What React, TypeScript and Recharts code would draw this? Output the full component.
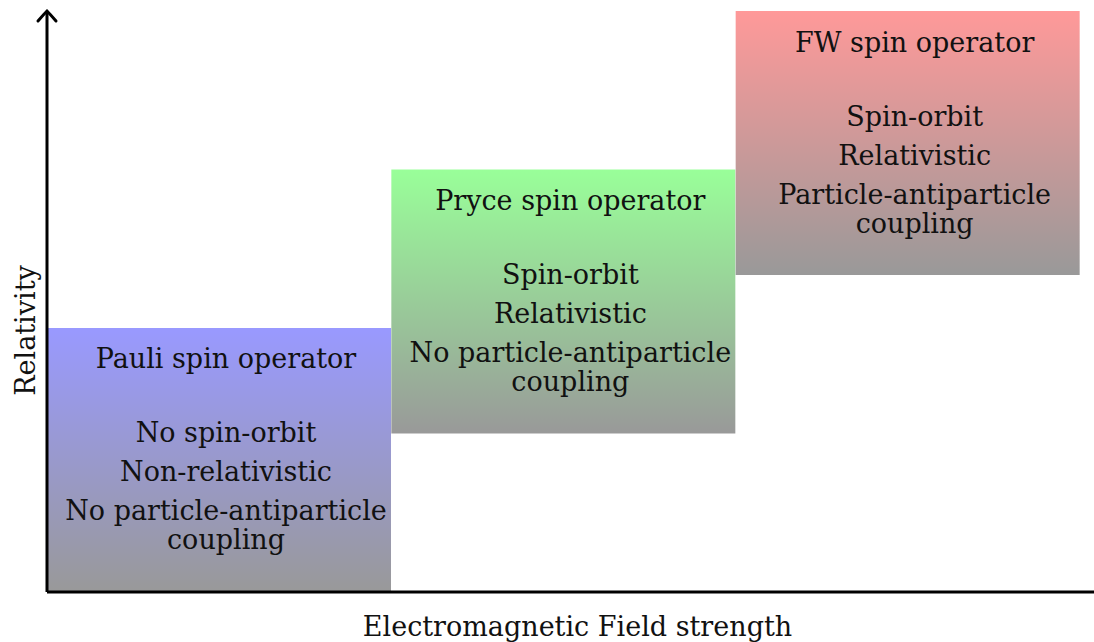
import React from "react";
import { BarChart, Bar, XAxis, YAxis, Cell, Label } from "recharts";

const operators = ["Pauli spin operator", "Pryce spin operator", "FW spin operator"];
const lowValues = [0, 0.6, 1.2];
const highValues = [1, 1.6, 2.2];
const topColors = ["#9999ff", "#99ff99", "#ff9999"];
const bottomColor = "#999999";
const properties = [
  ["No spin-orbit", "Non-relativistic", "No particle-antiparticle", "coupling"],
  ["Spin-orbit", "Relativistic", "No particle-antiparticle", "coupling"],
  ["Spin-orbit", "Relativistic", "Particle-antiparticle", "coupling"],
];

const data = operators.map((name, i) => ({
  name,
  range: [lowValues[i], highValues[i]],
  lines: properties[i],
}));

const FONT = "'DejaVu Serif', 'Liberation Serif', serif";
const FS = 27;
const lineOffsets = [105, 144, 183, 212];

const BoxText = (props: any) => {
  const { x, y, width, index } = props;
  // text sits a little right of the box centre in the original
  const cx = x + width / 2 + 7;
  const item = data[index];
  return (
    <g fontFamily={FONT} fontSize={FS} fill="#111" textAnchor="middle">
      <text x={cx} y={y + 31} dominantBaseline="central">
        {item.name}
      </text>
      {item.lines.map((line, j) => (
        <text key={j} x={cx} y={y + lineOffsets[j]} dominantBaseline="central">
          {line}
        </text>
      ))}
    </g>
  );
};

export default function App() {
  return (
    <div style={{ position: "absolute", left: 0, top: 0 }}>
      <BarChart
        width={1094}
        height={642}
        data={data}
        margin={{ top: 11, right: 0, bottom: 0, left: 0 }}
        barCategoryGap={0}
      >
        <defs>
          {topColors.map((c, i) => (
            <linearGradient key={i} id={`grad-${i}`} x1="0" y1="0" x2="0" y2="1">
              <stop offset="0%" stopColor={c} />
              <stop offset="100%" stopColor={bottomColor} />
            </linearGradient>
          ))}
          <marker
            id="arrowHead"
            markerUnits="userSpaceOnUse"
            markerWidth={30}
            markerHeight={30}
            viewBox="-15 -15 30 30"
            refX={0}
            refY={0}
            orient="auto-start-reverse"
          >
            <path
              d="M -10 -9 Q -2 -2 0 0 Q -2 2 -10 9"
              fill="none"
              stroke="#000"
              strokeWidth={3}
              strokeLinecap="round"
            />
          </marker>
        </defs>
        <XAxis
          dataKey="name"
          tick={false}
          tickLine={false}
          height={50}
          padding={{ left: 0, right: 14 }}
          axisLine={{ stroke: "#000", strokeWidth: 3 }}
        >
          <Label
            value="Electromagnetic Field strength"
            position="insideBottom"
            offset={6}
            dx={7}
            style={{ fontFamily: FONT, fontSize: FS, fill: "#111" }}
          />
        </XAxis>
        <YAxis
          type="number"
          domain={[0, 2.2]}
          tick={false}
          tickLine={false}
          width={47}
          axisLine={{ stroke: "#000", strokeWidth: 3, markerStart: "url(#arrowHead)" }}
        >
          <Label
            content={(p: any) => {
              const vb = p.viewBox;
              const lx = vb.x + 25;
              const ly = vb.y + vb.height / 2 + 29;
              return (
                <text
                  x={lx}
                  y={ly}
                  transform={`rotate(-90 ${lx} ${ly})`}
                  textAnchor="middle"
                  dominantBaseline="central"
                  fontFamily={FONT}
                  fontSize={FS}
                  fill="#111"
                >
                  Relativity
                </text>
              );
            }}
          />
        </YAxis>
        <Bar dataKey="range" isAnimationActive={false} label={<BoxText />}>
          {data.map((_, i) => (
            <Cell key={i} fill={`url(#grad-${i})`} />
          ))}
        </Bar>
      </BarChart>
    </div>
  );
}
